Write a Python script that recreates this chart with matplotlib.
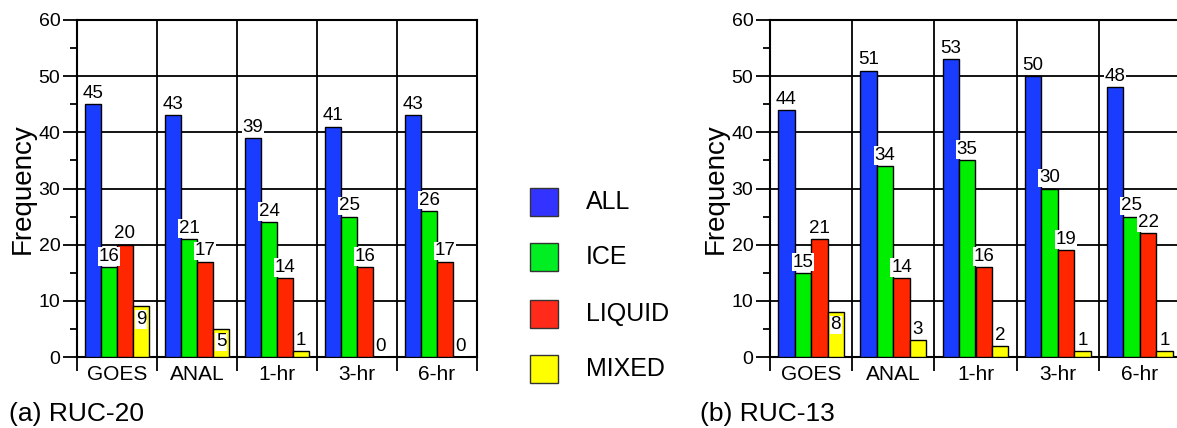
import numpy as np
import matplotlib.pyplot as plt
from matplotlib.patches import Rectangle

plt.rcParams['font.family'] = ['Liberation Sans', 'DejaVu Sans']

# datos
grupos = ["GOES", "ANAL", "1-hr", "3-hr", "6-hr"]
series = ["ALL", "ICE", "LIQUID", "MIXED"]
ruc20_all = [45, 43, 39, 41, 43]
ruc20_ice = [16, 21, 24, 25, 26]
ruc20_liq = [20, 17, 14, 16, 17]
ruc20_mix = [9, 5, 1, 0, 0]
ruc13_all = [44, 51, 53, 50, 48]
ruc13_ice = [15, 34, 35, 30, 25]
ruc13_liq = [21, 14, 16, 19, 22]
ruc13_mix = [8, 3, 2, 1, 1]

colores = ["#1a3cff", "#00ee00", "#ff2600", "#ffff00"]
colores_leyenda = ["#3333ff", "#00ee22", "#ff2a1a", "#ffff00"]

W, H = 1177, 428
fig = plt.figure(figsize=(W / 100, H / 100), dpi=100)


def panel(ax, datos, titulo):
    x = np.arange(len(grupos))
    ancho = 0.2
    for i, vals in enumerate(datos):
        pos = x + (i - 1.5) * ancho
        ax.bar(pos, vals, ancho, color=colores[i], edgecolor="black",
               linewidth=1.0, zorder=3)
        for p, v in zip(pos, vals):
            # los amarillos de 5 o mas van dentro de la barra
            if i == 3 and v >= 5:
                y = v - 3.8
            else:
                y = v + 0.4
            ax.text(p, y, str(v), ha="center", va="bottom", fontsize=13.5,
                    zorder=4, bbox=dict(facecolor="white", edgecolor="none", pad=0.5))
    ax.set_xlim(-0.5, len(grupos) - 0.5)
    ax.set_ylim(0, 60)
    ax.set_yticks(range(0, 61, 10))
    ax.set_yticks(range(5, 60, 10), minor=True)
    ax.set_xticks(np.arange(len(grupos) + 1) - 0.5)
    ax.set_xticklabels([])
    ax.set_xticks(x, minor=True)
    ax.set_xticklabels(grupos, minor=True, fontsize=15)
    ax.tick_params(axis="x", which="major", length=10, width=1.3, direction="out")
    ax.tick_params(axis="x", which="minor", length=0, pad=6)
    ax.tick_params(axis="y", which="major", length=10, width=1.3, labelsize=14, pad=2)
    ax.tick_params(axis="y", which="minor", length=5, width=1.3)
    ax.grid(True, which="major", color="black", linewidth=1.3, zorder=0)
    ax.set_axisbelow(True)
    for s in ax.spines.values():
        s.set_linewidth(1.5)
    ax.set_ylabel("Frequency", fontsize=20, labelpad=2)
    ax.text(-0.17, -0.17, titulo, transform=ax.transAxes, fontsize=19,
            ha="left", va="center")


bottom = 1 - 357 / H
height = 337 / H
ax1 = fig.add_axes([77 / W, bottom, 400 / W, height])
ax2 = fig.add_axes([770 / W, bottom, 411 / W, height])
panel(ax1, [ruc20_all, ruc20_ice, ruc20_liq, ruc20_mix], "(a) RUC-20")
panel(ax2, [ruc13_all, ruc13_ice, ruc13_liq, ruc13_mix], "(b) RUC-13")

# leyenda dibujada a mano en el centro
tops = [188, 243, 300, 355]
for nombre, c, t in zip(series, colores_leyenda, tops):
    fig.add_artist(Rectangle((530 / W, 1 - (t + 28) / H), 28 / W, 28 / H,
                             facecolor=c, edgecolor="#333333", linewidth=1.0,
                             transform=fig.transFigure))
    fig.text(586 / W, 1 - (t + 14) / H, nombre, fontsize=18, va="center", ha="left")

fig.savefig("out.png", dpi=100)
